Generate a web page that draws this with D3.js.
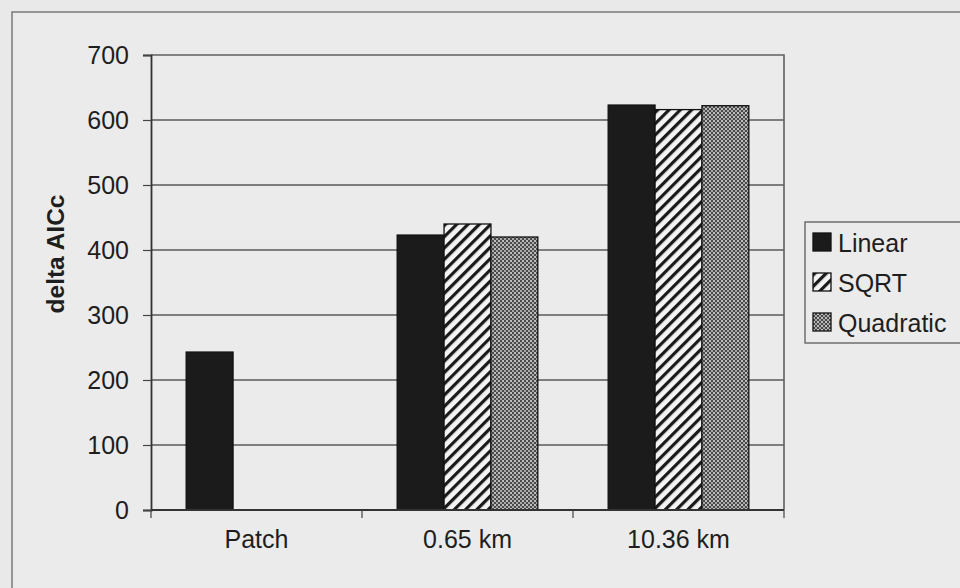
<!DOCTYPE html>
<html>
<head>
<meta charset="utf-8">
<script src="https://cdn.jsdelivr.net/npm/d3@7"></script>
<style>
  html, body { margin: 0; padding: 0; background: #e9e9e9; }
  svg { display: block; }
  text { font-family: "Liberation Sans", Arial, sans-serif; fill: #1e1e1e; }
</style>
</head>
<body>
<svg id="chart" width="960" height="588"></svg>
<script>
// Categories, series and values
const categories = ["Patch", "0.65 km", "10.36 km"];
const seriesNames = ["Linear", "SQRT", "Quadratic"];
const linearValues = [243, 423, 623];
const sqrtValues = [null, 440, 616];
const quadraticValues = [null, 420, 622];
const yTicks = [0, 100, 200, 300, 400, 500, 600, 700];
const yTitle = "delta AICc";

const seriesValues = { "Linear": linearValues, "SQRT": sqrtValues, "Quadratic": quadraticValues };

const svg = d3.select("#chart");
const W = 960, H = 588;
const plot = { left: 151, right: 784, top: 55, bottom: 510 };
const FONT = 25;

// Fill patterns for the three series
const defs = svg.append("defs");
const stripe = defs.append("pattern")
  .attr("id", "stripes").attr("patternUnits", "userSpaceOnUse")
  .attr("width", 8).attr("height", 8)
  .attr("patternTransform", "rotate(45)");
stripe.append("rect").attr("width", 8).attr("height", 8).attr("fill", "#f4f4f4");
stripe.append("rect").attr("width", 3.2).attr("height", 8).attr("fill", "#1a1a1a");

const dots = defs.append("pattern")
  .attr("id", "dots").attr("patternUnits", "userSpaceOnUse")
  .attr("width", 4).attr("height", 4);
dots.append("rect").attr("width", 4).attr("height", 4).attr("fill", "#4a4a4a");
dots.append("rect").attr("x", 0).attr("y", 0).attr("width", 2).attr("height", 2).attr("fill", "#bdbdbd");
dots.append("rect").attr("x", 2).attr("y", 2).attr("width", 2).attr("height", 2).attr("fill", "#a8a8a8");

const fills = { "Linear": "#1b1b1b", "SQRT": "url(#stripes)", "Quadratic": "url(#dots)" };

// Outer frame of the chart
svg.append("rect").attr("x", 12).attr("y", 12).attr("width", W).attr("height", H)
  .attr("fill", "#ebebeb").attr("stroke", "#7a7a7a").attr("stroke-width", 1.5);

// Scales
const x0 = d3.scaleBand().domain(categories).range([plot.left, plot.right]).paddingInner(0).paddingOuter(0);
const x1 = d3.scaleBand().domain(seriesNames).range([0, x0.bandwidth()]).paddingInner(0).paddingOuter(0.75);
const y = d3.scaleLinear().domain([0, 700]).range([plot.bottom, plot.top]);

// Gridlines
svg.append("g").selectAll("line").data(yTicks.filter(d => d > 0 && d < 700)).join("line")
  .attr("x1", plot.left).attr("x2", plot.right)
  .attr("y1", d => y(d)).attr("y2", d => y(d))
  .attr("stroke", "#5a5a5a").attr("stroke-width", 1.4);

// Plot border (top and right)
svg.append("path")
  .attr("d", `M${plot.left},${plot.top}H${plot.right}V${plot.bottom}`)
  .attr("fill", "none").attr("stroke", "#606060").attr("stroke-width", 1.6);

// Bars
const groups = svg.append("g").selectAll("g").data(categories).join("g")
  .attr("transform", d => `translate(${x0(d)},0)`);
groups.selectAll("rect")
  .data((c, i) => seriesNames.map(s => ({ s, v: seriesValues[s][i] })).filter(d => d.v != null))
  .join("rect")
  .attr("x", d => x1(d.s))
  .attr("width", x1.bandwidth())
  .attr("y", d => y(d.v))
  .attr("height", d => y(0) - y(d.v))
  .attr("fill", d => fills[d.s])
  .attr("stroke", "#111").attr("stroke-width", 1.3);

// Y axis
const yAxis = d3.axisLeft(y).tickValues(yTicks).tickSize(8).tickPadding(14);
const gy = svg.append("g").attr("transform", `translate(${plot.left},0)`).call(yAxis);
gy.select(".domain").attr("stroke", "#333").attr("stroke-width", 1.8);
gy.selectAll(".tick line").attr("stroke", "#444").attr("stroke-width", 1.2);
gy.selectAll(".tick text").attr("font-size", FONT).attr("fill", "#1e1e1e")
  .attr("font-family", "Liberation Sans, Arial, sans-serif");

// X axis with ticks on category boundaries
const gx = svg.append("g").attr("transform", `translate(0,${plot.bottom})`);
gx.append("line").attr("x1", plot.left).attr("x2", plot.right)
  .attr("stroke", "#333").attr("stroke-width", 1.8);
const boundaries = categories.map(c => x0(c)).concat([x0(categories[categories.length - 1]) + x0.bandwidth()]);
gx.selectAll(".xt").data(boundaries).join("line").attr("class", "xt")
  .attr("x1", d => d).attr("x2", d => d).attr("y1", 0).attr("y2", 8)
  .attr("stroke", "#444").attr("stroke-width", 1.2);
gx.selectAll("text").data(categories).join("text")
  .attr("x", d => x0(d) + x0.bandwidth() / 2)
  .attr("y", 38)
  .attr("text-anchor", "middle")
  .attr("font-size", FONT)
  .text(d => d);

// Y axis title
svg.append("text")
  .attr("transform", "translate(64,254) rotate(-90)")
  .attr("text-anchor", "middle")
  .attr("font-size", 24.5).attr("font-weight", "bold")
  .text(yTitle);

// Legend
const legend = svg.append("g").attr("transform", "translate(805,222)");
legend.append("rect").attr("x", 0).attr("y", 0).attr("width", 200).attr("height", 121)
  .attr("fill", "#ebebeb").attr("stroke", "#666").attr("stroke-width", 1.4);
const items = legend.selectAll("g.item").data(seriesNames).join("g").attr("class", "item")
  .attr("transform", (d, i) => `translate(8,${11 + i * 40})`);
items.append("rect").attr("width", 18).attr("height", 18)
  .attr("fill", d => fills[d]).attr("stroke", "#111").attr("stroke-width", 1.3);
items.append("text").attr("x", 25).attr("y", 19).attr("font-size", FONT).text(d => d);
</script>
</body>
</html>
